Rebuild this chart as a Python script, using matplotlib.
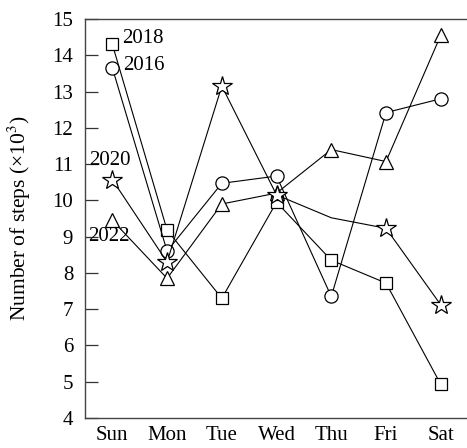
import matplotlib
matplotlib.use("Agg")
import matplotlib.pyplot as plt

days = ["Sun", "Mon", "Tue", "Wed", "Thu", "Fri", "Sat"]
y2016 = [13.65, 8.6, 10.47, 10.67, 7.35, 12.42, 12.8]
y2018 = [14.3, 9.18, 7.3, 9.95, 8.35, 7.72, 4.93]
y2020 = [10.57, 8.3, 13.15, 10.15, 9.52, 9.23, 7.12]
y2022 = [9.45, 7.85, 9.9, 10.2, 11.4, 11.07, 14.55]
yticks = list(range(4, 16))

plt.rcParams['font.family'] = ['Liberation Serif', 'DejaVu Serif']
plt.rcParams['mathtext.fontset'] = 'stix'

fig = plt.figure(figsize=(4.67, 4.48), dpi=100)
ax = fig.add_axes([85/467, 30/448, 382/467, 399/448])

x = list(range(len(days)))
lw = 0.8
common = dict(color='black', lw=lw, mfc='white', mec='black', mew=0.9)
ax.plot(x, y2018, marker='s', ms=9, **common)
ax.plot(x, y2016, marker='o', ms=9.5, **common)
ax.plot(x, y2022, marker='^', ms=10, **common)
ax.plot(x, y2020, marker='*', ms=15, markevery=[0, 1, 2, 3, 5, 6], **common)

fs = 15
ax.text(0.18, 14.45, "2018", fontsize=fs, ha='left', va='center')
ax.text(0.2, 13.72, "2016", fontsize=fs, ha='left', va='center')
ax.text(-0.43, 11.1, "2020", fontsize=fs, ha='left', va='center')
ax.text(-0.45, 9.0, "2022", fontsize=fs, ha='left', va='center')

ax.set_xlim(-0.5, 6.48)
ax.set_ylim(4, 15)
ax.set_xticks(x)
ax.set_xticklabels(days)
ax.set_yticks(yticks)
ax.tick_params(axis='y', direction='in', length=9.5, width=0.9, pad=8.5, labelsize=fs, color='#333333')
ax.tick_params(axis='x', length=0, pad=6, labelsize=fs)
for s in ['left', 'bottom', 'top']:
    ax.spines[s].set_color('#444444')
    ax.spines[s].set_linewidth(1.0)
ax.spines['right'].set_visible(False)
ax.set_ylabel("Number of steps (×10$^3$)", fontsize=15.5, labelpad=14)

fig.savefig("out.png", dpi=100)
